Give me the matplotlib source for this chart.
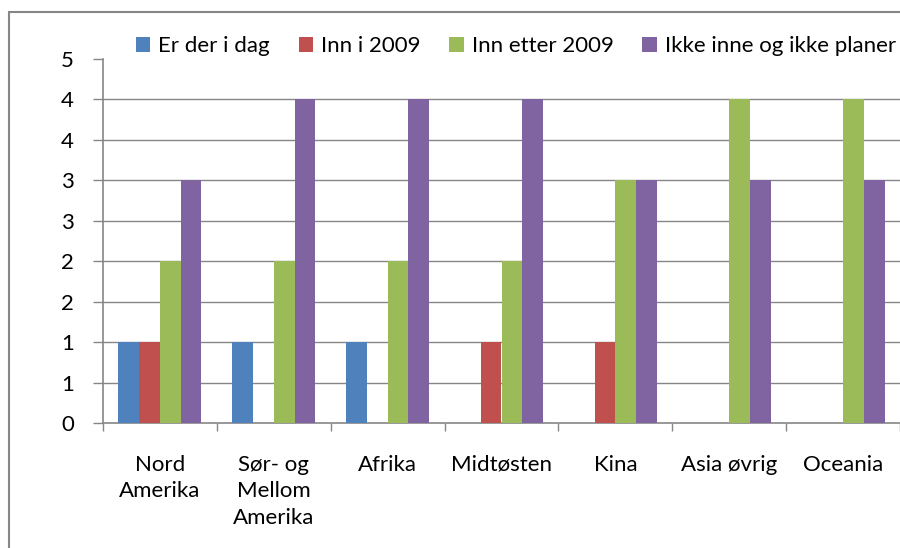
import numpy as np
import matplotlib
matplotlib.use("Agg")
import matplotlib.pyplot as plt
from matplotlib.patches import Rectangle

plt.rcParams['font.family'] = ['Lato', 'DejaVu Sans']

categories = ["Nord\nAmerika", "Sør- og\nMellom\nAmerika", "Afrika", "Midtøsten", "Kina", "Asia øvrig", "Oceania"]
series_names = ["Er der i dag", "Inn i 2009", "Inn etter 2009", "Ikke inne og ikke planer"]
er_der = [1, 1, 1, 0, 0, 0, 0]
inn_2009 = [1, 0, 0, 1, 1, 0, 0]
inn_etter = [2, 2, 2, 2, 3, 4, 4]
ikke_inne = [3, 4, 4, 4, 3, 3, 3]
y_ticks = [0, 0.5, 1, 1.5, 2, 2.5, 3, 3.5, 4, 4.5]
y_labels = ["0", "1", "1", "2", "2", "3", "3", "4", "4", "5"]

colors = ["#4F81BD", "#C0504D", "#9BBB59", "#8064A2"]
grid_c = "#868686"
fs = 16

fig = plt.figure(figsize=(9, 5.48), dpi=100)
ax = fig.add_axes([103/900, 125/548, 797/900, 364/548])

x = np.arange(len(categories))
w = 0.182
data = [er_der, inn_2009, inn_etter, ikke_inne]
for i, (vals, name) in enumerate(zip(data, series_names)):
    ax.bar(x + (i - 1.5) * w, vals, width=w, color=colors[i], label=name, zorder=3)

ax.set_xlim(-0.5, len(categories) - 0.5)
ax.set_ylim(0, 4.5)
ax.set_yticks(y_ticks)
ax.set_yticklabels(y_labels, fontsize=fs)
for t in y_ticks[1:-1]:
    ax.axhline(t, color=grid_c, lw=1, zorder=1)

ax.set_xticks(x)
ax.set_xticklabels(categories, fontsize=fs, linespacing=1.4)
ax.set_xticks(np.arange(-0.5, len(categories)), minor=True)
ax.tick_params(axis='x', which='major', length=0, pad=23)
ax.tick_params(axis='x', which='minor', length=6, color=grid_c, width=1)
ax.tick_params(axis='y', length=7, color=grid_c, width=1, pad=14)
for s in ['top', 'right']:
    ax.spines[s].set_visible(False)
for s in ['left', 'bottom']:
    ax.spines[s].set_color(grid_c)
    ax.spines[s].set_linewidth(1.2)

leg = ax.legend(loc='center', bbox_to_anchor=(0.518, 1.035), ncol=4, frameon=False,
                fontsize=fs, handlelength=0.65, handleheight=0.65, handletextpad=0.35,
                columnspacing=1.3, borderaxespad=0)

fig.patches.append(Rectangle((9, -20), 950, 548 - 12 + 20, transform=None, fill=False,
                             edgecolor=grid_c, lw=1.5, clip_on=False))

fig.savefig("out.png", dpi=100)
